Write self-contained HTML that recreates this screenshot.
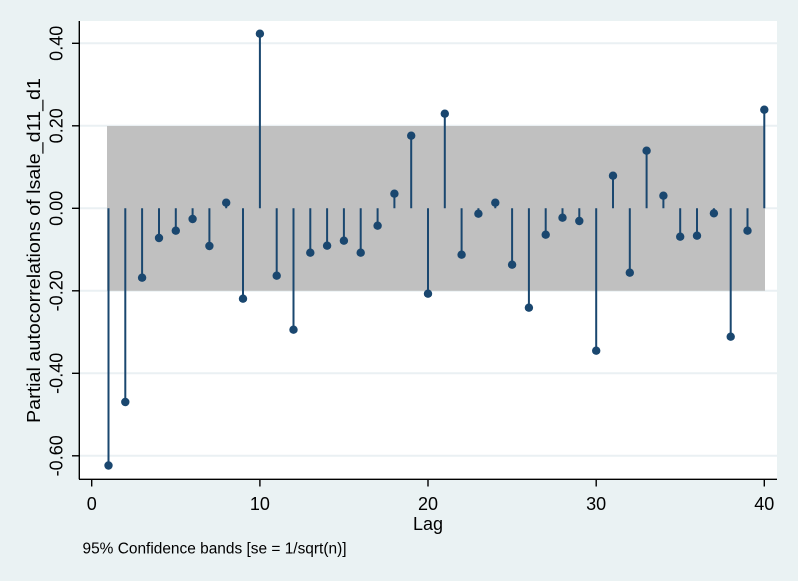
<!DOCTYPE html>
<html>
<head>
<meta charset="utf-8">
<style>
html,body{margin:0;padding:0;background:#EAF2F3;}
svg{display:block;}
text{font-family:"Liberation Sans",Arial,sans-serif;fill:#000;}
</style>
</head>
<body>
<svg width="798" height="581" viewBox="0 0 798 581" xmlns="http://www.w3.org/2000/svg">
<rect x="0" y="0" width="798" height="581" fill="#EAF2F3"/>
<rect x="79" y="21" width="698" height="458" fill="#FFFFFF"/>
<g stroke="#EAF0F3" stroke-width="2">
<line x1="79" x2="777" y1="43.3" y2="43.3"/>
<line x1="79" x2="777" y1="125.8" y2="125.8"/>
<line x1="79" x2="777" y1="208.3" y2="208.3"/>
<line x1="79" x2="777" y1="290.8" y2="290.8"/>
<line x1="79" x2="777" y1="373.3" y2="373.3"/>
<line x1="79" x2="777" y1="455.8" y2="455.8"/>
</g>
<rect x="107" y="126" width="658" height="164.8" fill="#C0C0C0"/>
<path fill="none" stroke="#1A476F" stroke-width="2" d="M108.5 208.3V465.5 M125.3 208.3V402 M142.1 208.3V277.7 M159 208.3V238 M175.8 208.3V230.7 M192.6 208.3V219 M209.4 208.3V246 M226.2 208.3V202.7 M243 208.3V298.7 M259.9 208.3V33.7 M276.7 208.3V275.7 M293.5 208.3V329.7 M310.3 208.3V252.7 M327.1 208.3V245.7 M343.9 208.3V240.7 M360.7 208.3V252.7 M377.6 208.3V225.7 M394.4 208.3V193.7 M411.2 208.3V135.7 M428 208.3V293.7 M444.8 208.3V113.7 M461.6 208.3V254.7 M478.4 208.3V213.7 M495.3 208.3V202.7 M512.1 208.3V264.7 M528.9 208.3V307.7 M545.7 208.3V234.7 M562.5 208.3V217.7 M579.3 208.3V221 M596.2 208.3V350.7 M613 208.3V175.7 M629.8 208.3V272.7 M646.6 208.3V150.7 M663.4 208.3V195.7 M680.2 208.3V236.7 M697 208.3V235.7 M713.9 208.3V213.3 M730.7 208.3V336.7 M747.5 208.3V230.7 M764.3 208.3V109.7"/>
<g fill="#1A476F">
<circle cx="108.5" cy="465.5" r="4.2"/>
<circle cx="125.3" cy="402" r="4.2"/>
<circle cx="142.1" cy="277.7" r="4.2"/>
<circle cx="159" cy="238" r="4.2"/>
<circle cx="175.8" cy="230.7" r="4.2"/>
<circle cx="192.6" cy="219" r="4.2"/>
<circle cx="209.4" cy="246" r="4.2"/>
<circle cx="226.2" cy="202.7" r="4.2"/>
<circle cx="243" cy="298.7" r="4.2"/>
<circle cx="259.9" cy="33.7" r="4.2"/>
<circle cx="276.7" cy="275.7" r="4.2"/>
<circle cx="293.5" cy="329.7" r="4.2"/>
<circle cx="310.3" cy="252.7" r="4.2"/>
<circle cx="327.1" cy="245.7" r="4.2"/>
<circle cx="343.9" cy="240.7" r="4.2"/>
<circle cx="360.7" cy="252.7" r="4.2"/>
<circle cx="377.6" cy="225.7" r="4.2"/>
<circle cx="394.4" cy="193.7" r="4.2"/>
<circle cx="411.2" cy="135.7" r="4.2"/>
<circle cx="428" cy="293.7" r="4.2"/>
<circle cx="444.8" cy="113.7" r="4.2"/>
<circle cx="461.6" cy="254.7" r="4.2"/>
<circle cx="478.4" cy="213.7" r="4.2"/>
<circle cx="495.3" cy="202.7" r="4.2"/>
<circle cx="512.1" cy="264.7" r="4.2"/>
<circle cx="528.9" cy="307.7" r="4.2"/>
<circle cx="545.7" cy="234.7" r="4.2"/>
<circle cx="562.5" cy="217.7" r="4.2"/>
<circle cx="579.3" cy="221" r="4.2"/>
<circle cx="596.2" cy="350.7" r="4.2"/>
<circle cx="613" cy="175.7" r="4.2"/>
<circle cx="629.8" cy="272.7" r="4.2"/>
<circle cx="646.6" cy="150.7" r="4.2"/>
<circle cx="663.4" cy="195.7" r="4.2"/>
<circle cx="680.2" cy="236.7" r="4.2"/>
<circle cx="697" cy="235.7" r="4.2"/>
<circle cx="713.9" cy="213.3" r="4.2"/>
<circle cx="730.7" cy="336.7" r="4.2"/>
<circle cx="747.5" cy="230.7" r="4.2"/>
<circle cx="764.3" cy="109.7" r="4.2"/>
</g>
<g stroke="#000" stroke-width="1.4" fill="none">
<line x1="79.3" y1="21" x2="79.3" y2="479.3"/>
<line x1="79" y1="479.3" x2="777" y2="479.3"/>
<line x1="72" x2="79" y1="43.3" y2="43.3"/>
<line x1="72" x2="79" y1="125.8" y2="125.8"/>
<line x1="72" x2="79" y1="208.3" y2="208.3"/>
<line x1="72" x2="79" y1="290.8" y2="290.8"/>
<line x1="72" x2="79" y1="373.3" y2="373.3"/>
<line x1="72" x2="79" y1="455.8" y2="455.8"/>
<line x1="91.7" x2="91.7" y1="479" y2="486.5"/>
<line x1="259.9" x2="259.9" y1="479" y2="486.5"/>
<line x1="428" x2="428" y1="479" y2="486.5"/>
<line x1="596.2" x2="596.2" y1="479" y2="486.5"/>
<line x1="764.3" x2="764.3" y1="479" y2="486.5"/>
</g>
<g font-size="18" text-anchor="middle">
<text transform="translate(62.5,43.3) rotate(-90)">0.40</text>
<text transform="translate(62.5,125.8) rotate(-90)">0.20</text>
<text transform="translate(62.5,208.3) rotate(-90)">0.00</text>
<text transform="translate(62.5,290.8) rotate(-90)">-0.20</text>
<text transform="translate(62.5,373.3) rotate(-90)">-0.40</text>
<text transform="translate(62.5,455.8) rotate(-90)">-0.60</text>
</g>
<g font-size="18" text-anchor="middle">
<text x="91.7" y="510">0</text>
<text x="259.9" y="510">10</text>
<text x="428" y="510">20</text>
<text x="596.2" y="510">30</text>
<text x="764.3" y="510">40</text>
</g>
<text x="428" y="530" font-size="18" text-anchor="middle">Lag</text>
<text transform="translate(40,250.5) rotate(-90)" font-size="18.5" text-anchor="middle" textLength="345" lengthAdjust="spacingAndGlyphs">Partial autocorrelations of lsale_d11_d1</text>
<text x="82.5" y="553.5" font-size="15.4" textLength="264" lengthAdjust="spacingAndGlyphs">95% Confidence bands [se = 1/sqrt(n)]</text>
</svg>
</body>
</html>
